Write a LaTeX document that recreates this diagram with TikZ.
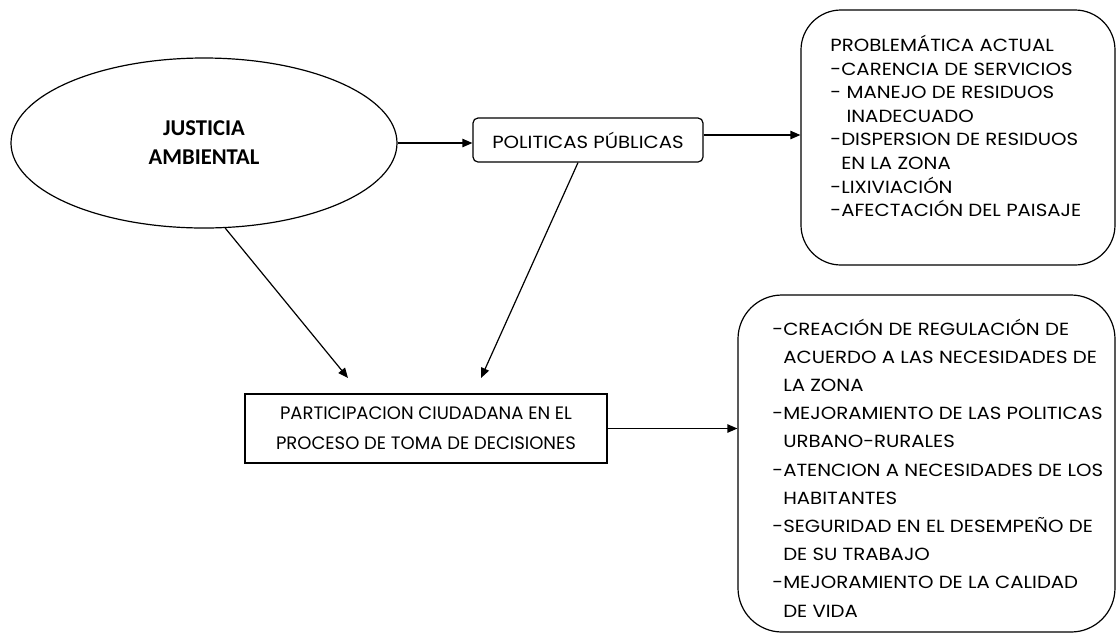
\documentclass[tikz,border=0pt]{standalone}
\usepackage{fontspec}
\setmainfont{Poppins}
\newfontfamily\widefont{Poppins}[FakeStretch=1.12]
\newfontfamily\calibri{Carlito}
\usetikzlibrary{arrows.meta,positioning,shapes.geometric}
\tikzset{box/.style={draw,line width=0.6pt,align=left,inner sep=0pt,font=\fontsize{9}{11.7}\selectfont},
roundbox/.style={box,rounded corners=20pt},
txt/.style={anchor=west,align=left,inner sep=0pt},
arr/.style={-{Triangle[length=5pt,width=4.2pt]},line width=0.6pt}}

\begin{document}
\begin{tikzpicture}[x=0.5pt,y=-0.5pt]
\useasboundingbox (0,0) rectangle (1120,634);
\node[draw,ellipse,line width=0.6pt,minimum width=193pt,minimum height=85pt,align=center,font=\calibri\bfseries\fontsize{11.3}{14.5}\selectfont] (just) at (204,143) {JUSTICIA\\AMBIENTAL};
\node[box,rounded corners=2.5pt,minimum width=115pt,minimum height=22pt,align=center,font=\widefont\fontsize{8.8}{11}\selectfont] (pol) at (588,140) {POLITICAS PÚBLICAS};
% recuadros redondeados y su texto
\node[roundbox,minimum width=157pt,minimum height=127.5pt] (prob) at (958,137.5) {};
\node[txt,font=\widefont\fontsize{8.8}{11.8}\selectfont] (probtext) at (830,126) {PROBLEMÁTICA ACTUAL\\-CARENCIA DE SERVICIOS\\- MANEJO DE RESIDUOS\\\phantom{- }INADECUADO\\-DISPERSION DE RESIDUOS\\\phantom{-}EN LA ZONA\\-LIXIVIACIÓN\\-AFECTACIÓN DEL PAISAJE};
\node[box,minimum width=181pt,minimum height=34.5pt,align=center,font=\fontsize{9}{15}\selectfont] (part) at (426,428.5) {PARTICIPACION CIUDADANA EN EL\\PROCESO DE TOMA DE DECISIONES};
\node[roundbox,rounded corners=22pt,minimum width=188.5pt,minimum height=168.5pt] (res) at (926.5,463.5) {};
\node[txt,font=\widefont\fontsize{8.8}{14.1}\selectfont] (restext) at (772,468) {-CREACIÓN DE REGULACIÓN DE\\\phantom{-}ACUERDO A LAS NECESIDADES DE\\\phantom{-}LA ZONA\\-MEJORAMIENTO DE LAS POLITICAS\\\phantom{-}URBANO-RURALES\\-ATENCION A NECESIDADES DE LOS\\\phantom{-}HABITANTES\\-SEGURIDAD EN EL DESEMPEÑO DE\\\phantom{-}DE SU TRABAJO\\-MEJORAMIENTO DE LA CALIDAD\\\phantom{-}DE VIDA};
\coordinate (jtip) at (348,378);
\coordinate (ptip) at (481,378);
\draw[arr] (just.east) -- (just.east -| pol.west);
\draw[arr] ([yshift=2.5pt]pol.east) -- ([yshift=2.5pt]pol.east -| prob.west);
\draw[arr] (just.-76) -- (jtip);
\draw[arr] ([xshift=-5pt]pol.south) -- (ptip);
\draw[arr] (part.east) -- (part.east -| res.west);
\end{tikzpicture}
\end{document}
